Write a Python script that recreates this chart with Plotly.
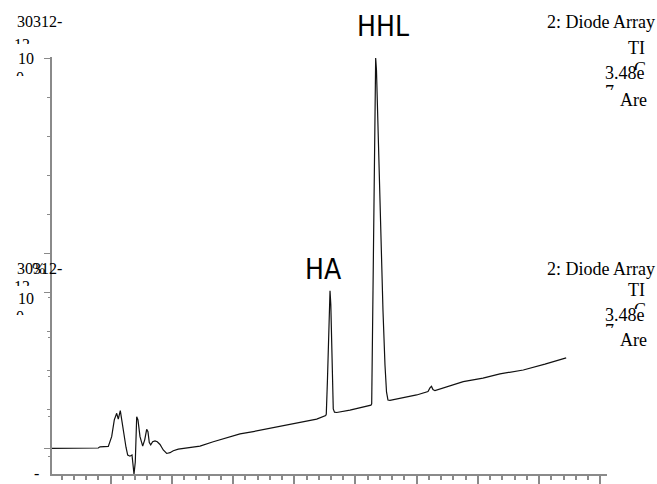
import plotly.graph_objects as go

# ---- chromatogram data: retention time (min) vs relative intensity (%) ----
time_min = [0.036, 0.335, 0.662, 0.797, 0.825, 0.961, 1.016, 1.059, 1.098, 1.124,
            1.157, 1.196, 1.229, 1.250, 1.278, 1.315, 1.348, 1.369, 1.381, 1.402,
            1.425, 1.446, 1.479, 1.523, 1.556, 1.588, 1.609, 1.631, 1.654, 1.686,
            1.724, 1.761, 1.806, 1.859, 1.915, 1.969, 2.023, 2.105, 2.296, 2.459,
            2.676, 2.895, 3.113, 3.330, 3.549, 3.876, 4.093, 4.366, 4.513,
            4.523, 4.542, 4.559, 4.572, 4.584, 4.597, 4.610, 4.624, 4.637, 4.657, 4.693,
            4.910, 5.253,
            5.265, 5.278, 5.291, 5.307, 5.319, 5.330, 5.343, 5.359, 5.384, 5.417,
            5.449, 5.482, 5.507, 5.531, 5.564,
            6.000, 6.185, 6.217, 6.242, 6.266, 6.299, 6.761, 7.083, 7.361, 7.742,
            8.096, 8.443]
intensity = [-0.1, -0.1, 0.0, 0.0, 0.3, 0.4, 2.9, 7.2, 8.9, 7.4,
             9.6, 5.5, 1.2, 0.2, -1.8, -2.1, -1.8, -4.8, -6.7, -3.6,
             8.0, 7.2, 2.9, 0.5, 2.1, 4.8, 4.2, 1.4, 0.8, 1.6,
             1.8, 1.6, 0.9, -0.5, -1.4, -1.2, -0.7, -0.3, 0.1, 0.5,
             1.6, 2.6, 3.6, 4.2, 4.9, 5.9, 6.6, 7.4, 8.3,
             8.7, 17.4, 30.3, 37.9, 40.3, 36.7, 25.1, 13.6, 10.0, 9.2, 9.1,
             9.7, 11.0,
             11.3, 27.7, 48.2, 73.8, 90.5, 100.0, 96.9, 86.7, 71.3, 53.3,
             35.4, 21.3, 14.4, 12.3, 12.2,
             13.6, 14.5, 15.4, 15.8, 15.0, 14.7, 17.0, 17.9, 19.0, 20.0,
             21.5, 23.1]

# axis extents
time_range = [0.041, 9.110]
intensity_range = [-6.667, 100.256]
panel_ticks = [0, 10, 20, 30, 40, 50, 60, 70, 80, 90, 100]
panel_long_ticks = [0, 40, 50, 100]
second_panel_range = [10.89, 222.0]
second_panel_ticks = [20, 40, 60, 80, 100]

# peak names
peak_names = ["HA", "HHL"]

# header texts of the two stacked traces
sample_name = "30312-"
sample_name_tail = "12"
scale_text = "10"
scale_tail = "0"
detector = "2: Diode Array"
trace_kind = "TI"
trace_kind_tail = "C"
full_scale = "3.48e"
full_scale_tail = "7"
area_text = "Are"

W, H = 657, 484
AXIS_GREY = "#8a8a8a"
SERIF = "Liberation Serif, Times New Roman, serif"
NARROW = "DejaVu Sans Condensed, Liberation Sans Narrow, Arial Narrow, Liberation Sans, sans-serif"


def fx(p):
    return p / W


def fy(p):
    return 1 - p / H


fig = go.Figure()

fig.add_trace(go.Scatter(
    x=time_min, y=intensity, mode="lines",
    line=dict(color="#111111", width=1.2),
    hoverinfo="skip", showlegend=False,
))

# wrapped header lines that are cut off by their text boxes
tails = [
    (sample_name_tail, 14, 46, 16, "middle right"),
    (scale_tail, 16, 79, 16, "middle right"),
    (sample_name_tail, 14, 288, 16, "middle right"),
    (scale_tail, 16, 318, 16, "middle right"),
    (trace_kind_tail, 640, 70, 18, "middle center"),
    (full_scale_tail, 605, 93, 18, "middle right"),
    (trace_kind_tail, 640, 311, 18, "middle center"),
    (full_scale_tail, 605, 332, 18, "middle right"),
]
for txt, x, y, size, pos in tails:
    fig.add_trace(go.Scatter(
        x=[x], y=[y], mode="text", text=[txt], textposition=pos,
        textfont=dict(family=SERIF, size=size, color="black"),
        xaxis="x2", yaxis="y4", cliponaxis=False,
        hoverinfo="skip", showlegend=False,
    ))

# masks hiding the lower part of the cut-off lines
masks = [
    (10, 44, 36, 56), (12, 76, 30, 90),
    (10, 286, 36, 296), (12, 315, 30, 328),
    (630, 70, 652, 84), (602, 90, 618, 102),
    (630, 309, 652, 322), (602, 328, 618, 340),
]
shapes = []
for x0, y0, x1, y1 in masks:
    shapes.append(dict(type="rect", xref="x2", yref="y4", x0=x0, x1=x1, y0=y0, y1=y1,
                       fillcolor="white", line=dict(width=0), layer="above"))

annotations = []


def label(text, x, y, size, anchor, family=SERIF):
    annotations.append(dict(
        text=text, x=fx(x), y=fy(y), xref="paper", yref="paper",
        xanchor=anchor, yanchor="middle", showarrow=False,
        font=dict(family=family, size=size, color="black"),
    ))


# upper header
label(sample_name, 15, 21, 16, "left")
label(scale_text, 16, 58, 16, "left")
label(detector, 657, 22, 18, "right")
label(trace_kind, 647, 48, 18, "right")
label(full_scale, 647, 73, 18, "right")
label(area_text, 649, 100, 18, "right")
# lower header
label(sample_name, 15, 268, 16, "left")
label("%", 30, 268, 16, "left")
label(scale_text, 16, 298, 16, "left")
label(detector, 657, 269, 18, "right")
label(trace_kind, 647, 290, 18, "right")
label(full_scale, 647, 315, 18, "right")
label(area_text, 649, 340, 18, "right")
label("-", 36, 473, 16, "center")
# peak names
label(peak_names[0], 323, 269, 28, "center", NARROW)
label(peak_names[1], 383, 26, 28, "center", NARROW)

x_dom = [fx(52), fx(607)]
y_dom = [fy(474), fy(57)]

fig.update_layout(
    width=W, height=H,
    margin=dict(l=0, r=0, t=0, b=0),
    paper_bgcolor="white", plot_bgcolor="rgba(0,0,0,0)",
    showlegend=False,
    shapes=shapes, annotations=annotations,
    xaxis=dict(domain=x_dom, range=time_range, showline=True, linecolor=AXIS_GREY,
               linewidth=2, showgrid=False, zeroline=False, showticklabels=False,
               ticks="outside", tick0=0, dtick=1, ticklen=9, tickcolor=AXIS_GREY,
               tickwidth=1.5, anchor="y",
               minor=dict(ticks="outside", tick0=0, dtick=0.2, ticklen=4,
                          tickcolor=AXIS_GREY, tickwidth=1.5, showgrid=False)),
    yaxis=dict(domain=y_dom, range=intensity_range, showline=True, linecolor=AXIS_GREY,
               linewidth=2, showgrid=False, zeroline=False, showticklabels=False,
               ticks="outside", tickmode="array", tickvals=panel_ticks, ticklen=3,
               tickcolor=AXIS_GREY, tickwidth=1.2, anchor="x"),
    yaxis2=dict(overlaying="y", range=intensity_range, showline=False, showgrid=False,
                zeroline=False, showticklabels=False, ticks="outside", tickmode="array",
                tickvals=panel_long_ticks, ticklen=7, tickcolor=AXIS_GREY, tickwidth=1.2,
                anchor="x"),
    yaxis3=dict(overlaying="y", range=second_panel_range, showline=False, showgrid=False,
                zeroline=False, showticklabels=False, ticks="outside", tickmode="array",
                tickvals=second_panel_ticks, ticklen=3, tickcolor=AXIS_GREY, tickwidth=1.2,
                anchor="x"),
    xaxis2=dict(domain=[0, 1], range=[0, W], visible=False, anchor="y4"),
    yaxis4=dict(domain=[0, 1], range=[H, 0], visible=False, anchor="x2"),
)

# the overlay axes carry an empty series so their ticks are drawn
for ax in ("y2", "y3"):
    fig.add_trace(go.Scatter(x=[None], y=[None], yaxis=ax, mode="lines",
                             hoverinfo="skip", showlegend=False))

fig.write_html("out.html")
